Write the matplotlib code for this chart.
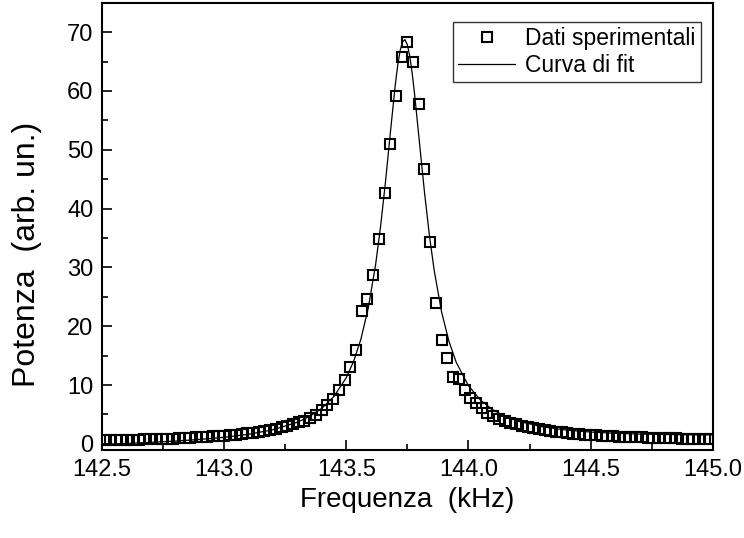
import matplotlib
matplotlib.use("Agg")
import matplotlib.pyplot as plt
from matplotlib.ticker import MultipleLocator, FormatStrFormatter

plt.rcParams["font.family"] = ["Liberation Sans", "DejaVu Sans"]

# ---- experimental points (frequency sweep, kHz) ----
freq = [
    142.510, 142.533, 142.557, 142.580, 142.604, 142.627, 142.650, 142.674, 142.697, 142.721,
    142.744, 142.767, 142.791, 142.814, 142.838, 142.861, 142.884, 142.908, 142.931, 142.955,
    142.978, 143.001, 143.025, 143.048, 143.072, 143.095, 143.118, 143.142, 143.165, 143.189,
    143.212, 143.235, 143.259, 143.282, 143.306, 143.329, 143.352, 143.376, 143.399, 143.423,
    143.446, 143.469, 143.493, 143.516, 143.540, 143.563, 143.586, 143.610, 143.633, 143.657,
    143.680, 143.703, 143.727, 143.750, 143.774, 143.797, 143.820, 143.844, 143.867, 143.891,
    143.914, 143.937, 143.961, 143.984, 144.008, 144.031, 144.054, 144.078, 144.101, 144.125,
    144.148, 144.171, 144.195, 144.218, 144.242, 144.265, 144.288, 144.312, 144.335, 144.359,
    144.382, 144.405, 144.429, 144.452, 144.476, 144.499, 144.522, 144.546, 144.569, 144.593,
    144.616, 144.639, 144.663, 144.686, 144.710, 144.733, 144.756, 144.780, 144.803, 144.827,
    144.850, 144.873, 144.897, 144.920, 144.944, 144.967, 144.990,
]
power = [
    0.61, 0.62, 0.64, 0.66, 0.68, 0.71, 0.73, 0.76, 0.78, 0.81,
    0.84, 0.88, 0.91, 0.95, 1.00, 1.04, 1.09, 1.14, 1.20, 1.26,
    1.33, 1.40, 1.49, 1.58, 1.68, 1.79, 1.92, 2.05, 2.20, 2.38,
    2.58, 2.79, 3.06, 3.34, 3.68, 3.90, 4.40, 4.90, 5.70, 6.60,
    7.60, 9.20, 10.9, 13.1, 16.0, 22.6, 24.6, 28.7, 34.9, 42.6,
    51.0, 59.1, 65.7, 68.3, 64.9, 57.8, 46.7, 34.3, 24.0, 17.7,
    14.6, 11.4, 11.0, 9.20, 7.80, 6.90, 6.10, 5.30, 4.80, 4.20,
    3.85, 3.55, 3.30, 3.10, 2.86, 2.66, 2.48, 2.32, 2.18, 2.05,
    1.94, 1.83, 1.74, 1.66, 1.58, 1.51, 1.45, 1.39, 1.33, 1.28,
    1.24, 1.20, 1.16, 1.12, 1.09, 1.06, 1.03, 1.00, 0.97, 0.95,
    0.93, 0.91, 0.88, 0.87, 0.85, 0.83, 0.82,
]

# ---- fit curve ----
fit_freq = [
    142.50, 142.60, 142.70, 142.80, 142.90, 143.00, 143.10, 143.20, 143.30, 143.35,
    143.40, 143.45, 143.50, 143.53, 143.56, 143.59, 143.62, 143.64, 143.66, 143.68,
    143.70, 143.71, 143.72, 143.73, 143.74, 143.75, 143.76, 143.77, 143.78, 143.80,
    143.82, 143.84, 143.86, 143.89, 143.92, 143.95, 144.00, 144.05, 144.10, 144.15,
    144.20, 144.30, 144.40, 144.50, 144.60, 144.70, 144.80, 144.90, 145.00,
]
fit_power = [
    -0.07, 0.08, 0.26, 0.48, 0.76, 1.12, 1.63, 2.41, 3.68, 4.67,
    6.05, 8.09, 11.25, 14.02, 17.81, 23.08, 30.44, 36.79, 44.33, 52.69,
    60.79, 64.17, 66.77, 68.34, 68.72, 67.87, 65.88, 62.94, 59.32, 51.07,
    42.85, 35.55, 29.47, 22.46, 17.47, 13.87, 9.89, 7.41, 5.79, 4.69,
    3.91, 2.92, 2.35, 2.01, 1.80, 1.67, 1.60, 1.55, 1.53,
]

fig = plt.figure(figsize=(7.44, 5.38), dpi=100)
ax = fig.add_axes([0.137, 0.164, 0.821, 0.831])

ax.plot(freq, power, linestyle="none", marker="s", markersize=7.2,
        markerfacecolor="none", markeredgecolor="black", markeredgewidth=1.5,
        label="Dati sperimentali")
ax.plot(fit_freq, fit_power, color="black", linewidth=0.9, label="Curva di fit")

ax.set_xlim(142.5, 145.0)
ax.set_ylim(-1, 75)
ax.xaxis.set_major_locator(MultipleLocator(0.5))
ax.xaxis.set_minor_locator(MultipleLocator(0.25))
ax.xaxis.set_major_formatter(FormatStrFormatter("%.1f"))
ax.yaxis.set_major_locator(MultipleLocator(10))
ax.yaxis.set_minor_locator(MultipleLocator(5))
ax.tick_params(which="both", direction="in", top=False, right=False,
               width=1.2, labelsize=17)
ax.tick_params(which="major", length=7)
ax.tick_params(axis="x", which="major", pad=7)
ax.tick_params(axis="y", which="major", pad=6)
ax.tick_params(which="minor", length=4)
for s in ax.spines.values():
    s.set_linewidth(1.5)

ax.set_xlabel("Frequenza  (kHz)", fontsize=20, labelpad=4)
ax.set_ylabel("Potenza  (arb. un.)", fontsize=23)
ax.yaxis.set_label_coords(-0.098, 0.437)

leg = ax.legend(loc="upper right", bbox_to_anchor=(0.980, 0.9575),
                borderaxespad=0, fontsize=16.5, frameon=True, fancybox=False,
                numpoints=1, handlelength=2.5, handletextpad=0.43,
                borderpad=0.22, labelspacing=0.17)
leg.get_frame().set_edgecolor("black")
leg.get_frame().set_linewidth(1.0)

fig.savefig("out.png", dpi=100)
